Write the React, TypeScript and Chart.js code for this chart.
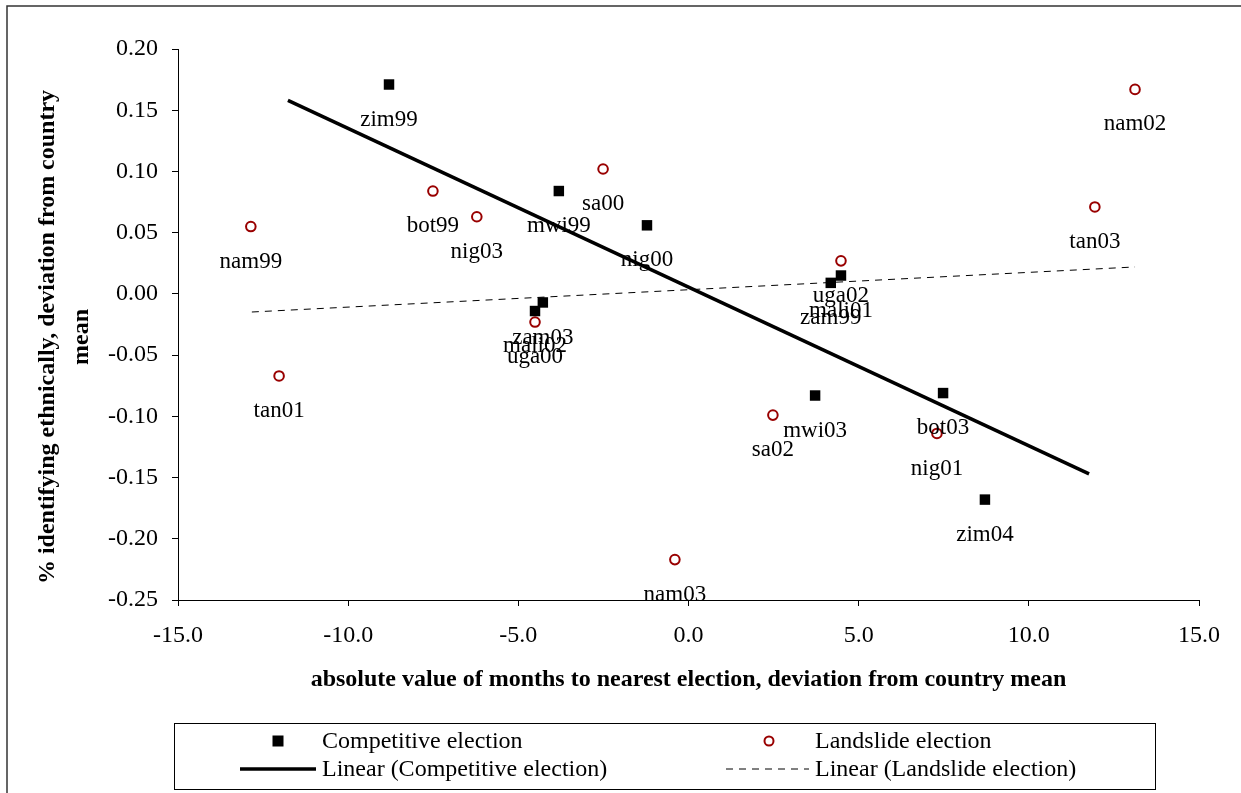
import React, { useEffect, useRef } from "react";
import { Chart, registerables } from "chart.js";

Chart.register(...registerables);

// ---- data ----
const compX = [-8.8, -3.81, -1.22, -4.28, -4.51, 4.18, 4.48, 3.72, 7.48, 8.71];
const compY = [0.171, 0.084, 0.056, -0.007, -0.014, 0.009, 0.015, -0.083, -0.081, -0.168];
const compLabels = ["zim99", "mwi99", "nig00", "zam03", "mali02", "zam99", "mali01", "mwi03", "bot03", "zim04"];

const landX = [-12.86, -12.03, -7.51, -6.22, -2.51, -4.51, -0.4, 2.48, 4.48, 7.3, 11.94, 13.12];
const landY = [0.055, -0.067, 0.084, 0.063, 0.102, -0.023, -0.217, -0.099, 0.027, -0.114, 0.071, 0.167];
const landLabels = ["nam99", "tan01", "bot99", "nig03", "sa00", "uga00", "nam03", "sa02", "uga02", "nig01", "tan03", "nam02"];

const compTrendX = [-11.77, 11.77];
const compTrendY = [0.158, -0.147];
const landTrendX = [-12.83, 13.12];
const landTrendY = [-0.0148, 0.022];

const xTicks = [-15, -10, -5, 0, 5, 10, 15];
const yTicks = [-0.25, -0.2, -0.15, -0.1, -0.05, 0, 0.05, 0.1, 0.15, 0.2];

const seriesNames = [
  "Competitive election",
  "Landslide election",
  "Linear (Competitive election)",
  "Linear (Landslide election)",
];

const FONT = "'Liberation Serif', 'Times New Roman', serif";
const RED = "#990000";

const zip = (xs: number[], ys: number[]) => xs.map((x, i) => ({ x, y: ys[i] }));

const decorPlugin = {
  id: "decor",
  beforeDraw(chart: any) {
    const ctx = chart.ctx;
    ctx.save();
    ctx.fillStyle = "#fff";
    ctx.fillRect(0, 0, chart.width, chart.height);
    ctx.strokeStyle = "#333";
    ctx.lineWidth = 1.5;
    ctx.beginPath();
    ctx.moveTo(7, chart.height + 2);
    ctx.lineTo(7, 6);
    ctx.lineTo(chart.width + 2, 6);
    ctx.stroke();
    ctx.restore();
  },
  afterDatasetsDraw(chart: any) {
    const ctx = chart.ctx;
    ctx.save();
    // data labels
    ctx.font = `23px ${FONT}`;
    ctx.fillStyle = "#000";
    ctx.textAlign = "center";
    ctx.textBaseline = "middle";
    const lbls = [compLabels, landLabels];
    [0, 1].forEach((di) => {
      const meta = chart.getDatasetMeta(di);
      meta.data.forEach((pt: any, i: number) => {
        ctx.fillText(lbls[di][i], pt.x, pt.y + 35);
      });
    });

    // y axis title (two lines)
    ctx.font = `bold 24px ${FONT}`;
    ctx.save();
    ctx.translate(48, 337);
    ctx.rotate(-Math.PI / 2);
    ctx.fillText("% identifying ethnically, deviation from country", 0, 0);
    ctx.restore();
    ctx.save();
    ctx.translate(82, 337);
    ctx.rotate(-Math.PI / 2);
    ctx.fillText("mean", 0, 0);
    ctx.restore();

    // legend
    const bx = 174, by = 723, bw = 981, bh = 66;
    ctx.strokeStyle = "#000";
    ctx.lineWidth = 1;
    ctx.strokeRect(bx + 0.5, by + 0.5, bw, bh);
    ctx.font = `24px ${FONT}`;
    ctx.textAlign = "left";
    const rows = [741, 769];
    const cols = [0, 493];
    const items = chart.data.datasets;
    items.forEach((ds: any, i: number) => {
      const col = cols[i % 2];
      const y = rows[Math.floor(i / 2)];
      const sx = 240 + col, ex = 316 + col, cx = (sx + ex) / 2;
      if (i === 0) {
        ctx.fillStyle = "#000";
        ctx.fillRect(cx - 5.5, y - 5.5, 11, 11);
      } else if (i === 1) {
        ctx.beginPath();
        ctx.arc(cx - 2, y, 4.5, 0, Math.PI * 2);
        ctx.fillStyle = "#fff";
        ctx.fill();
        ctx.strokeStyle = RED;
        ctx.lineWidth = 2;
        ctx.stroke();
      } else {
        ctx.beginPath();
        ctx.strokeStyle = "#000";
        ctx.lineWidth = ds.borderWidth;
        ctx.setLineDash(ds.borderDash || []);
        ctx.moveTo(sx - (i === 3 ? 7 : 0), y);
        ctx.lineTo(ex, y);
        ctx.stroke();
        ctx.setLineDash([]);
      }
      ctx.fillStyle = "#000";
      ctx.fillText(ds.label, 322 + col, y + 1);
    });
    ctx.restore();
  },
};

export default function App() {
  const ref = useRef<HTMLCanvasElement | null>(null);

  useEffect(() => {
    document.body.style.margin = "0";
    const canvas = ref.current!;
    const chart = new Chart(canvas, {
      type: "scatter",
      data: {
        datasets: [
          {
            label: seriesNames[0],
            data: zip(compX, compY),
            pointStyle: "rect",
            pointRadius: 7.4,
            backgroundColor: "#000",
            borderColor: "#000",
            borderWidth: 0,
          },
          {
            label: seriesNames[1],
            data: zip(landX, landY),
            pointStyle: "circle",
            pointRadius: 4.8,
            backgroundColor: "#fff",
            borderColor: RED,
            borderWidth: 2,
          },
          {
            type: "line",
            label: seriesNames[2],
            data: zip(compTrendX, compTrendY),
            borderColor: "#000",
            borderWidth: 3.5,
            pointRadius: 0,
            showLine: true,
            fill: false,
          } as any,
          {
            type: "line",
            label: seriesNames[3],
            data: zip(landTrendX, landTrendY),
            borderColor: "#000",
            borderWidth: 1,
            borderDash: [7, 6],
            pointRadius: 0,
            showLine: true,
            fill: false,
          } as any,
        ],
      },
      options: {
        responsive: false,
        animation: false,
        layout: { padding: { left: 0, top: 49, right: 42, bottom: 93 } },
        plugins: {
          legend: { display: false },
          tooltip: { enabled: false },
        },
        scales: {
          x: {
            type: "linear",
            min: -15,
            max: 15,
            afterBuildTicks: (s: any) => {
              s.ticks = xTicks.map((v) => ({ value: v }));
            },
            afterFit: (s: any) => {
              s.height = 100;
            },
            grid: {
              drawOnChartArea: false,
              drawTicks: true,
              tickLength: 6,
              color: "#000",
            },
            border: { display: true, color: "#000", width: 1 },
            ticks: {
              color: "#000",
              padding: 15,
              font: { family: FONT, size: 24 },
              callback: (v: any) => Number(v).toFixed(1),
            },
            title: {
              display: true,
              text: "absolute value of months to nearest election, deviation from country mean",
              color: "#000",
              font: { family: FONT, size: 24, weight: "bold" },
              padding: { top: 0, bottom: 6 },
            },
          },
          y: {
            type: "linear",
            min: -0.25,
            max: 0.2,
            afterBuildTicks: (s: any) => {
              s.ticks = yTicks.map((v) => ({ value: v }));
            },
            afterFit: (s: any) => {
              s.width = 178;
            },
            grid: {
              drawOnChartArea: false,
              drawTicks: true,
              tickLength: 6,
              color: "#000",
            },
            border: { display: true, color: "#000", width: 1 },
            ticks: {
              color: "#000",
              padding: 14,
              font: { family: FONT, size: 24 },
              callback: (v: any) => Number(v).toFixed(2),
            },
          },
        },
      },
      plugins: [decorPlugin],
    } as any);
    return () => chart.destroy();
  }, []);

  return (
    <div style={{ width: 1241, height: 793 }}>
      <canvas ref={ref} width={1241} height={793} style={{ display: "block" }} />
    </div>
  );
}
